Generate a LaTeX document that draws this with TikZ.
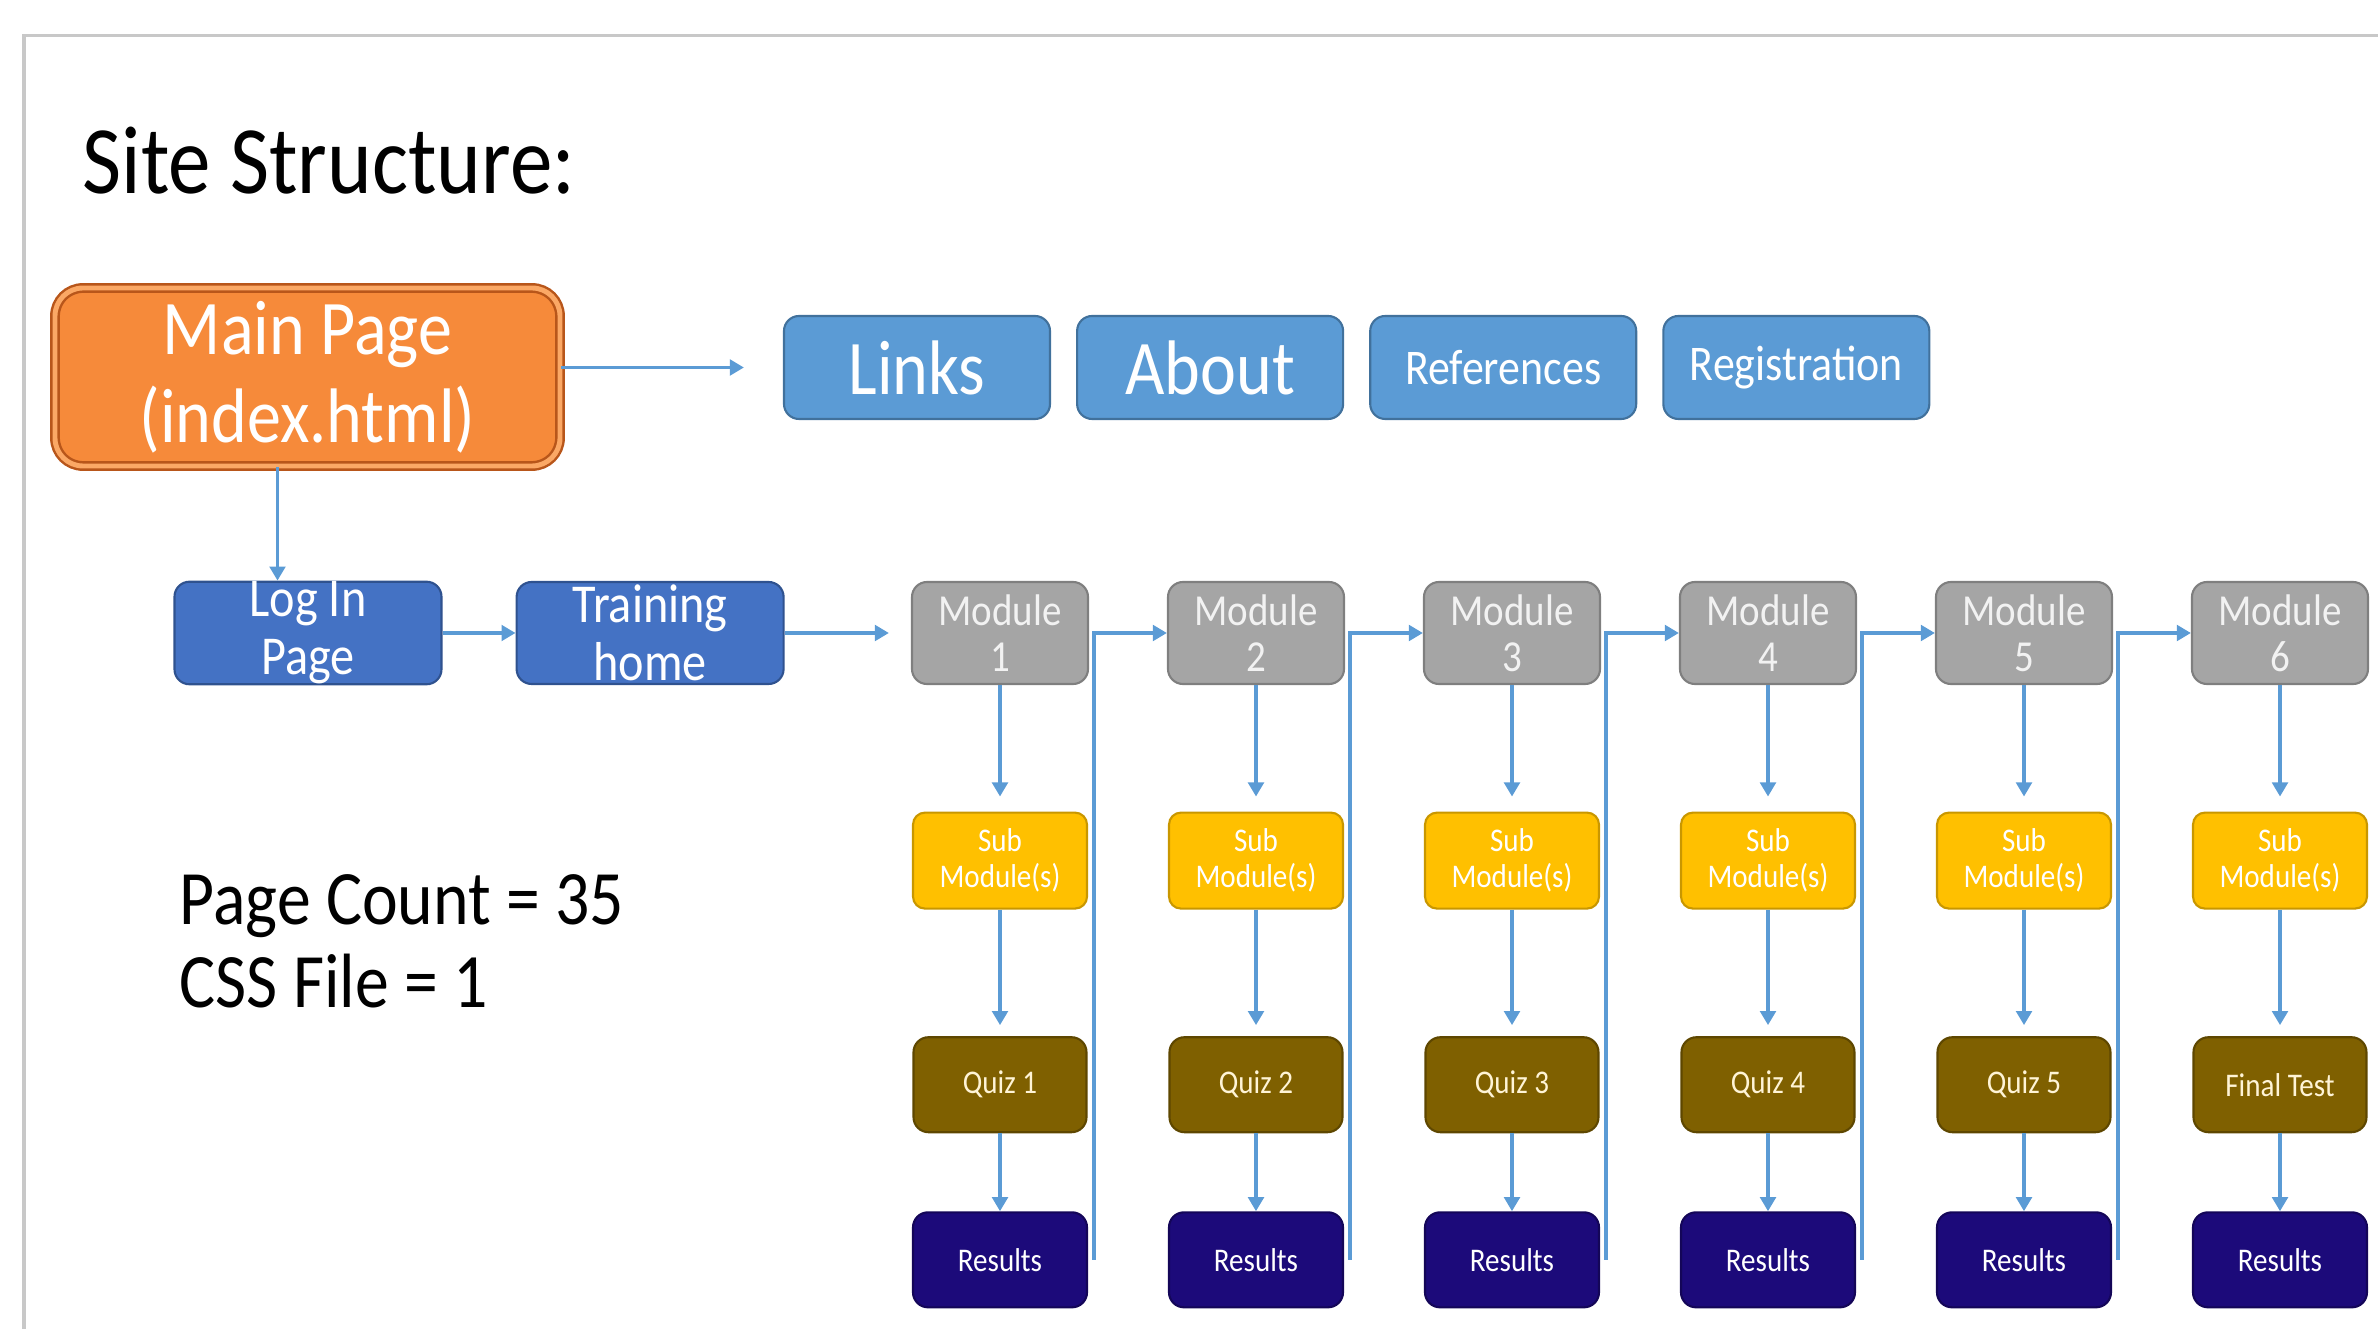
\documentclass[tikz,border=0pt]{standalone}
\usepackage{fontspec}
\setmainfont{Carlito}[FakeStretch=0.88]
\usetikzlibrary{arrows.meta,positioning}
\definecolor{linkblue}{HTML}{5B9BD5}
\definecolor{framegray}{HTML}{C8C8C8}
\definecolor{mainfill}{HTML}{F68A3A}
\definecolor{mainedge}{HTML}{B8561A}
\definecolor{mainrim}{HTML}{FBA865}
\definecolor{navfill}{HTML}{5B9BD5}
\definecolor{navedge}{HTML}{41719C}
\definecolor{pagefill}{HTML}{4472C4}
\definecolor{pageedge}{HTML}{2F528F}
\definecolor{modfill}{HTML}{A5A5A5}
\definecolor{modedge}{HTML}{7F7F7F}
\definecolor{modtext}{HTML}{F2F2F2}
\definecolor{subfill}{HTML}{FFC000}
\definecolor{subedge}{HTML}{C99700}
\definecolor{quizfill}{HTML}{7F6000}
\definecolor{quizedge}{HTML}{5E4700}
\definecolor{quiztext}{HTML}{FFF4D6}
\definecolor{resfill}{HTML}{1C0A7A}
\definecolor{resedge}{HTML}{140658}
\begin{document}
\begin{tikzpicture}[
    box/.style={rounded corners=0.15cm, inner sep=0pt, align=center, text=white, line width=0.6pt},
    mainbox/.style={box, fill=mainfill, draw=mainedge, line width=0.7pt, double=mainrim, double distance=1.4pt,
      rounded corners=0.28cm, minimum width=5.05cm, minimum height=1.78cm, font=\fontsize{22}{25}\selectfont},
    navbox/.style={box, fill=navfill, draw=navedge, minimum width=2.66cm, minimum height=1.03cm},
    pagebox/.style={box, fill=pagefill, draw=pageedge, minimum width=2.67cm, minimum height=1.02cm,
      font=\fontsize{15.6}{16.5}\selectfont},
    module/.style={box, fill=modfill, draw=modedge, text=modtext, minimum width=1.76cm, minimum height=1.02cm,
      font=\fontsize{12.6}{13}\selectfont},
    submod/.style={box, fill=subfill, draw=subedge, rounded corners=0.12cm, minimum width=1.74cm, minimum height=0.96cm,
      font=\fontsize{9.4}{10.3}\selectfont},
    quiz/.style={box, fill=quizfill, draw=quizedge, text=quiztext, minimum width=1.73cm, minimum height=0.95cm,
      font=\fontsize{9.4}{10.3}\selectfont},
    result/.style={box, fill=resfill, draw=resedge, minimum width=1.74cm, minimum height=0.95cm,
      font=\fontsize{9.4}{10.3}\selectfont},
    plain/.style={anchor=base west, inner sep=0pt},
    arr/.style={-{Triangle[length=4pt,width=4.4pt]}, draw=linkblue, line width=1pt}
  ]
  \useasboundingbox (0,0) rectangle (23.78,-13.29);
  \draw[framegray, line width=0.9pt] (0.24,-13.29) |- (23.78,-0.355);

  \node[plain, font=\fontsize{27.5}{30}\selectfont] (title) at (0.82,-1.94) {Site Structure:};
  \node[plain, font=\fontsize{21.9}{23.6}\selectfont] (count) at (1.79,-9.25) {Page Count = 35};
  \node[plain, font=\fontsize{21.9}{23.6}\selectfont] (css) at (1.79,-10.08) {CSS File = 1};

  \node[mainbox] (main) at (3.075,-3.77) {Main Page\\(index.html)};
  \node[navbox, font=\fontsize{22}{24}\selectfont] (links) at (9.17,-3.675) {Links};
  \node[navbox, font=\fontsize{22}{24}\selectfont, right=0.25cm of links] (about) {About};
  \node[navbox, font=\fontsize{14.2}{16}\selectfont, right=0.25cm of about] (refs) {References};
  \node[navbox, font=\fontsize{14.2}{16}\selectfont, right=0.25cm of refs] (reg) {Registration};

  \node[pagebox] (login) at (3.08,-6.33) {Log In\\Page};
  \node[pagebox, right=0.73cm of login] (training) {Training\\home};

  \matrix[column sep={2.56cm,between origins}, row sep=1.265cm, matrix anchor=m1.center] at (10,-6.33)
  {
    \node[module](m1){Module\\1}; & \node[module](m2){Module\\2}; & \node[module](m3){Module\\3}; &
    \node[module](m4){Module\\4}; & \node[module](m5){Module\\5}; & \node[module](m6){Module\\6}; \\
    \node[submod](s1){Sub\\Module(s)}; & \node[submod](s2){Sub\\Module(s)}; & \node[submod](s3){Sub\\Module(s)}; &
    \node[submod](s4){Sub\\Module(s)}; & \node[submod](s5){Sub\\Module(s)}; & \node[submod](s6){Sub\\Module(s)}; \\
    \node[quiz](q1){Quiz 1}; & \node[quiz](q2){Quiz 2}; & \node[quiz](q3){Quiz 3}; &
    \node[quiz](q4){Quiz 4}; & \node[quiz](q5){Quiz 5}; & \node[quiz](q6){Final Test}; \\[-0.485cm]
    \node[result](r1){Results}; & \node[result](r2){Results}; & \node[result](r3){Results}; &
    \node[result](r4){Results}; & \node[result](r5){Results}; & \node[result](r6){Results}; \\
  };

  \draw[arr, shorten >=0.39cm] (main.east |- links.west) -- (links.west);
  \draw[arr] ([xshift=-0.3cm]main.south) -- ([xshift=-0.3cm]main.south |- login.north);
  \draw[arr] (login) -- (training);
  \draw[arr, shorten >=0.22cm] (training) -- (m1);

  \draw[arr, shorten >=0.15cm] (m1) -- (s1);
  \draw[arr, shorten >=0.15cm] (m2) -- (s2);
  \draw[arr, shorten >=0.15cm] (m3) -- (s3);
  \draw[arr, shorten >=0.15cm] (m4) -- (s4);
  \draw[arr, shorten >=0.15cm] (m5) -- (s5);
  \draw[arr, shorten >=0.15cm] (m6) -- (s6);
  \draw[arr, shorten >=0.11cm] (s1) -- (q1);
  \draw[arr, shorten >=0.11cm] (s2) -- (q2);
  \draw[arr, shorten >=0.11cm] (s3) -- (q3);
  \draw[arr, shorten >=0.11cm] (s4) -- (q4);
  \draw[arr, shorten >=0.11cm] (s5) -- (q5);
  \draw[arr, shorten >=0.11cm] (s6) -- (q6);
  \draw[arr] (q1) -- (r1);
  \draw[arr] (q2) -- (r2);
  \draw[arr] (q3) -- (r3);
  \draw[arr] (q4) -- (r4);
  \draw[arr] (q5) -- (r5);
  \draw[arr] (q6) -- (r6);

  \draw[arr] ([xshift=0.06cm]r1.east) |- (m2.west);
  \draw[arr] ([xshift=0.06cm]r2.east) |- (m3.west);
  \draw[arr] ([xshift=0.06cm]r3.east) |- (m4.west);
  \draw[arr] ([xshift=0.06cm]r4.east) |- (m5.west);
  \draw[arr] ([xshift=0.06cm]r5.east) |- (m6.west);
\end{tikzpicture}
\end{document}
